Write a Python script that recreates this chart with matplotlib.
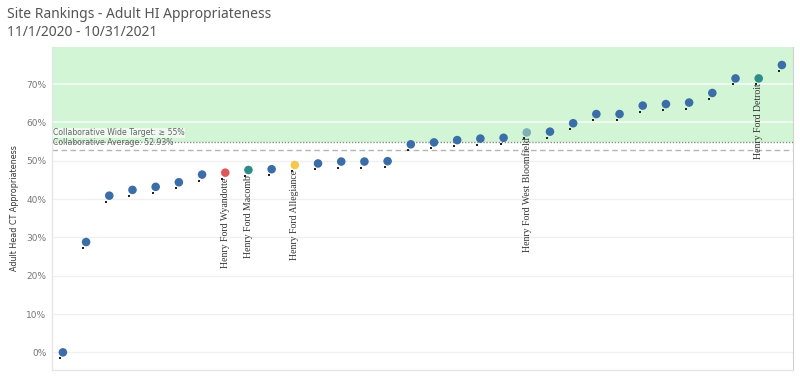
import matplotlib
matplotlib.use("Agg")
import matplotlib.pyplot as plt
import matplotlib.transforms as mtransforms
from matplotlib.ticker import FuncFormatter

# site values (%), sorted ascending
values = [0.0, 28.8, 40.9, 42.4, 43.2, 44.4, 46.4, 46.9, 47.6, 47.8, 48.9,
          49.3, 49.8, 49.8, 49.9, 54.3, 54.8, 55.4, 55.8, 56.0, 57.4, 57.6,
          59.8, 62.2, 62.2, 64.4, 64.8, 65.2, 67.7, 71.5, 71.5, 75.0]
# highlighted sites: index -> (label, colour)
highlights = {
    7: ("Henry Ford Wyandotte", "#e15759"),
    8: ("Henry Ford Macomb", "#2e8d86"),
    10: ("Henry Ford Allegiance", "#f3c84e"),
    20: ("Henry Ford West Bloomfield", "#7fb0b6"),
    30: ("Henry Ford Detroit", "#2e8d86"),
}
target = 55.0
average = 52.93
yticks = [0, 10, 20, 30, 40, 50, 60, 70]

base_blue = "#3b6ea8"
colors = [highlights[i][1] if i in highlights else base_blue for i in range(len(values))]
xs = list(range(len(values)))

fig = plt.figure(figsize=(8, 3.76), dpi=100)
ax = fig.add_axes([0.065, 0.016, 0.926, 0.859])

ymin, ymax = -4.6, 79.7
ax.set_ylim(ymin, ymax)
ax.set_xlim(-0.47, len(values) - 0.53)

# green target band
ax.axhspan(target, ymax, color="#d2f5d5", zorder=0, lw=0)

for t in yticks:
    c = "#f3fbf3" if t > target else "#f0f0f0"
    ax.axhline(t, color=c, lw=1.3 if t > target else 1, zorder=1)

ax.axhline(target, color="#8a8a8a", lw=1, ls=(0, (1, 1.2)), zorder=2)
ax.axhline(average, color="#b5b5b5", lw=1, ls=(0, (4, 2.5)), zorder=2)

t_off = mtransforms.offset_copy(ax.get_yaxis_transform(), fig=fig, x=0, y=9, units="dots")
a_off = mtransforms.offset_copy(ax.get_yaxis_transform(), fig=fig, x=0, y=7, units="dots")
ax.text(0.002, target, "Collaborative Wide Target: \u2265 55%", transform=t_off,
        fontsize=5.6, color="#666666", va="center", ha="left", family="DejaVu Sans",
        bbox=dict(facecolor="#eef9ef", edgecolor="none", pad=0.3), zorder=3)
ax.text(0.002, average, "Collaborative Average: 52.93%", transform=a_off,
        fontsize=5.6, color="#666666", va="center", ha="left", family="DejaVu Sans",
        zorder=3)

# small black marks just below each point
off = mtransforms.offset_copy(ax.transData, fig=fig, x=-3, y=-6, units="dots")
ax.scatter(xs, values, s=2.2, marker="s", color="#222222", transform=off, zorder=4, lw=0)

ax.scatter(xs, values, s=38, color=colors, zorder=5, edgecolors="none")

lab_off = mtransforms.offset_copy(ax.transData, fig=fig, x=0, y=-5, units="dots")
for i, (name, col) in highlights.items():
    ax.text(xs[i], values[i], name, rotation=90, ha="center", va="top",
            fontsize=7, family="Liberation Serif", color="#333333",
            transform=lab_off, zorder=6)

ax.set_yticks(yticks)
ax.yaxis.set_major_formatter(FuncFormatter(lambda v, p: f"{v:.0f}%"))
ax.tick_params(axis="y", length=0, labelsize=6.5, labelcolor="#777777", pad=4)
ax.set_xticks([])
ax.spines["top"].set_visible(False)
for s in ["left", "bottom"]:
    ax.spines[s].set_color("#e6e6e6")
    ax.spines[s].set_linewidth(1)
ax.spines["right"].set_color("#d0d0d0")

ax.set_ylabel("Adult Head CT Appropriateness", fontsize=5.8, color="#333333")
ax.yaxis.set_label_coords(-0.044, 0.50)

fig.text(0.009, 0.962, "Site Rankings - Adult HI Appropriateness", fontsize=10,
         color="#555555", va="center", ha="left", family="Noto Sans")
fig.text(0.009, 0.913, "11/1/2020 - 10/31/2021", fontsize=10,
         color="#555555", va="center", ha="left", family="Noto Sans")

fig.savefig("out.png", dpi=100)
